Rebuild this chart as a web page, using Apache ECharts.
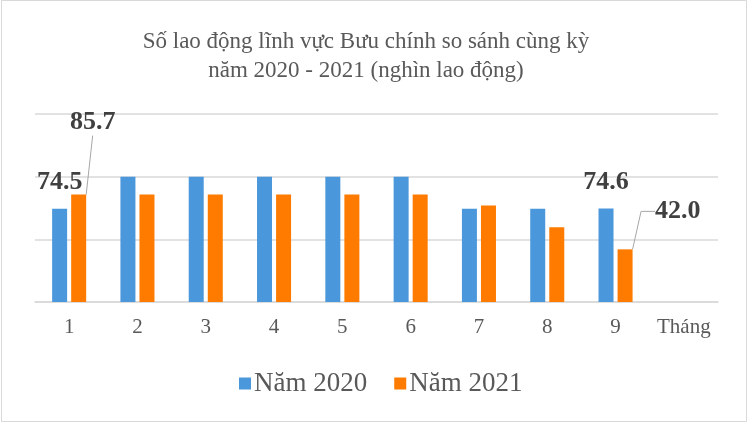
<!DOCTYPE html>
<html>
<head>
<meta charset="utf-8">
<script src="https://cdn.jsdelivr.net/npm/echarts@6/dist/echarts.min.js"></script>
<style>
html,body{margin:0;padding:0;background:#fff;}
#c{width:751px;height:424px;}
</style>
</head>
<body>
<div id="c"></div>
<script>
const months = ['1', '2', '3', '4', '5', '6', '7', '8', '9', 'Tháng'];
const values2020 = [74.5, 100, 100, 100, 100, 100, 74.5, 74.5, 74.6, null];
const values2021 = [85.7, 85.7, 85.7, 85.7, 85.7, 85.7, 77.0, 59.7, 42.0, null];
const labelled2020 = [0, 8];
const labelled2021 = [0, 8];
const seriesNames = ['Năm 2020', 'Năm 2021'];
const colors = ['#4b97db', '#fe7b00'];

const serif = '"Liberation Serif", "Times New Roman", serif';
const labelStyle = {
  fontFamily: serif, fontWeight: 'bold', fontSize: 26, color: '#404040'
};

function buildData(vals, labelled, withLine) {
  return vals.map((v, i) => {
    if (labelled.indexOf(i) < 0) return v;
    return {
      value: v,
      label: Object.assign({ show: true, position: 'top', distance: 13,
        formatter: p => p.value.toFixed(1) }, labelStyle),
      labelLine: { show: withLine, length2: i === 8 ? 14 : 0 }
    };
  });
}

const chart = echarts.init(document.getElementById('c'));
chart.setOption({
  animation: false,
  color: colors,
  graphic: [{
    type: 'rect', shape: { x: 1.5, y: 0.5, width: 745, height: 421 },
    style: { fill: 'none', stroke: '#d9d9d9', lineWidth: 1 }, silent: true, z: -1
  }],
  title: {
    text: 'Số lao động lĩnh vực Bưu chính so sánh cùng kỳ\nnăm 2020 - 2021 (nghìn lao động)',
    left: 361, top: 22, textAlign: 'center',
    textStyle: { fontFamily: serif, fontSize: 23, fontWeight: 'normal', color: '#595959', lineHeight: 29 }
  },
  legend: {
    left: 234, top: 365, icon: 'rect', itemWidth: 12, itemHeight: 12, itemGap: 27,
    textStyle: { fontFamily: serif, fontSize: 27, color: '#595959', padding: [0, 0, 0, -2] },
    data: seriesNames
  },
  grid: { left: 35, right: 33, top: 114, bottom: 122 },
  xAxis: {
    type: 'category', data: months,
    axisLine: { lineStyle: { color: '#d9d9d9', width: 1.5 } },
    axisTick: { show: false },
    axisLabel: { interval: 0, fontFamily: serif, fontSize: 21, color: '#595959', margin: 15 }
  },
  yAxis: {
    type: 'value', min: 0, max: 150, interval: 50,
    axisLabel: { show: false }, axisLine: { show: false }, axisTick: { show: false },
    splitLine: { lineStyle: { color: '#d9d9d9', width: 1.5 } }
  },
  series: [
    {
      name: seriesNames[0], type: 'bar', barWidth: 15, barGap: '27%',
      data: buildData(values2020, labelled2020, false)
    },
    {
      name: seriesNames[1], type: 'bar', barWidth: 15,
      data: buildData(values2021, labelled2021, true),
      labelLine: { lineStyle: { color: '#a6a6a6', width: 1 } },
      labelLayout: function (p) {
        const cx = p.rect.x + p.rect.width / 2;
        if (p.dataIndex === 0) {
          return { x: cx + 14, y: p.rect.y - 72, align: 'center', verticalAlign: 'middle' };
        }
        if (p.dataIndex === 8) {
          return { x: cx + 30, y: p.rect.y - 38, align: 'left', verticalAlign: 'middle' };
        }
        return {};
      }
    }
  ]
});
</script>
</body>
</html>
